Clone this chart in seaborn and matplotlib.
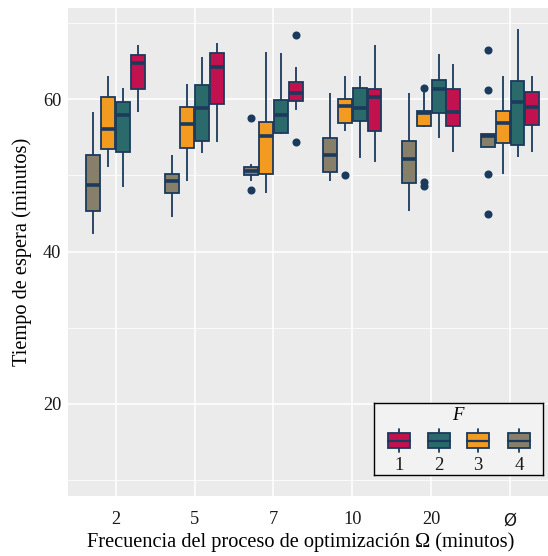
import numpy as np
import pandas as pd
import matplotlib
matplotlib.use("Agg")
import matplotlib.pyplot as plt
import seaborn as sns
from matplotlib.patches import Rectangle

# ---------------- data ----------------
categories = ["2", "5", "7", "10", "20", "Ø"]
f_levels = ["4", "3", "2", "1"]          # drawing order within each group
legend_levels = ["1", "2", "3", "4"]

# five-number summaries: [whisker_low, q1, median, q3, whisker_high]
stats_F4 = [[42.3, 45.3, 48.75, 52.7, 58.35],
            [44.6, 47.65, 49.3, 50.2, 52.75],
            [49.3, 50.05, 50.55, 51.05, 51.55],
            [49.3, 50.45, 52.65, 54.95, 60.8],
            [45.4, 49.0, 52.15, 54.55, 60.85],
            [53.8, 53.8, 55.15, 55.4, 55.4]]
stats_F3 = [[51.1, 53.5, 56.1, 60.35, 63.05],
            [49.3, 53.65, 56.7, 58.95, 62.05],
            [47.75, 50.2, 55.15, 57.0, 66.2],
            [55.8, 56.85, 59.1, 60.1, 63.05],
            [56.4, 56.55, 58.2, 58.5, 61.1],
            [50.25, 54.3, 56.9, 58.5, 63.05]]
stats_F2 = [[48.45, 53.1, 57.95, 59.6, 61.45],
            [52.9, 54.5, 58.8, 61.85, 65.55],
            [55.4, 55.6, 57.9, 59.95, 66.1],
            [52.35, 57.2, 58.8, 61.5, 63.1],
            [54.9, 58.15, 61.35, 62.5, 65.95],
            [52.45, 54.0, 59.6, 62.45, 69.3]]
stats_F1 = [[58.3, 61.35, 64.8, 65.8, 67.1],
            [54.4, 59.45, 64.2, 66.1, 67.4],
            [58.6, 59.8, 60.8, 62.25, 64.2],
            [51.8, 55.9, 60.3, 61.35, 67.1],
            [53.05, 56.5, 58.3, 61.4, 64.6],
            [53.1, 56.65, 59.0, 61.0, 63.05]]

# outliers per group (low, high)
out_F4 = [([], []), ([], []), ([48.15], [57.5]), ([], []), ([], []),
          ([45.0, 50.25], [61.2, 66.5])]
out_F3 = [([], []), ([], []), ([], []), ([50.1], []), ([48.6, 49.15], [61.55]),
          ([], [])]
out_F2 = [([], []), ([], []), ([], []), ([], []), ([], []), ([], [])]
out_F1 = [([], []), ([], []), ([54.45], [68.4]), ([], []), ([], []), ([], [])]

stats = {"4": stats_F4, "3": stats_F3, "2": stats_F2, "1": stats_F1}
outs = {"4": out_F4, "3": out_F3, "2": out_F2, "1": out_F1}

colors = {"1": "#C2114F", "2": "#2A6A6B", "3": "#F39B21", "4": "#877F69"}
navy = "#1B3A5C"


def sample_from_summary(s, lo_out, hi_out):
    """13 points whose quartiles / whiskers reproduce the summary."""
    wlo, q1, med, q3, whi = s
    low = sorted(lo_out) + [wlo]
    low = [wlo] * (3 - len(low)) + low
    high = [whi] + sorted(hi_out)
    high = high + [whi] * (3 - len(high))
    return low + [q1, q1, med, med, med, med, q3, q3] + high


rows = []
for f in f_levels:
    for i, c in enumerate(categories):
        lo, hi = outs[f][i]
        for v in sample_from_summary(stats[f][i], lo, hi):
            rows.append({"omega": c, "F": f, "value": v})
df = pd.DataFrame(rows)

# ---------------- figure ----------------
sns.set_theme(style="darkgrid")
plt.rcParams["font.family"] = ["Liberation Serif", "DejaVu Sans"]

W, H = 548, 556
fig = plt.figure(figsize=(W / 100, H / 100), dpi=100)
fig.patch.set_facecolor("white")

x_lo, x_hi = -0.6, 5.6
px_per_unit = 78.9
ax_left = 68.3 / W
ax_bottom = (H - 496) / H
ax_h = (496 - 8) / H
ax_w = (x_hi - x_lo) * px_per_unit / W
ax = fig.add_axes([ax_left, ax_bottom, ax_w, ax_h])
ax.set_facecolor("#EBEBEB")

sns.boxplot(data=df, x="omega", y="value", hue="F", order=categories,
            hue_order=f_levels, palette=colors, saturation=1,
            width=0.75, gap=0.06, linewidth=1.3, linecolor=navy,
            whis=1.5, fliersize=4.8, showcaps=False,
            flierprops=dict(marker="o", markerfacecolor=navy,
                            markeredgecolor=navy),
            medianprops=dict(linewidth=2.6, color=navy),
            legend=False, ax=ax, zorder=3)

ax.set_xlim(x_lo, x_hi)
ax.set_ylim(7.9, 72.0)
ax.set_yticks([20, 40, 60])
ax.set_yticks([10, 30, 50, 70], minor=True)
ax.grid(False)
ax.grid(True, which="major", color="white", linewidth=1.1, zorder=0)
ax.grid(True, which="minor", axis="y", color="white", linewidth=0.55, zorder=0)
ax.set_axisbelow(True)
for sp in ax.spines.values():
    sp.set_visible(False)
ax.tick_params(axis="both", which="both", length=0, labelsize=13.2,
               labelcolor="#1a1a1a")
ax.tick_params(axis="x", pad=11)
ax.tick_params(axis="y", pad=5)
for lab in ax.get_xticklabels():
    if lab.get_text() == "Ø":
        lab.set_fontfamily("DejaVu Sans")
        lab.set_fontsize(12)
ax.set_xlabel("Frecuencia del proceso de optimización Ω (minutos)",
              fontsize=14.7, color="black")
ax.xaxis.set_label_coords((301 - 68.3) / (ax_w * W), -0.074)
ax.set_ylabel("Tiempo de espera (minutos)", fontsize=14.7, color="black",
              labelpad=8)

# ---------------- legend (manual, labels under keys) ----------------
lx0, ly0, lx1, ly1 = 374, 403, 543, 475
lax = fig.add_axes([lx0 / W, (H - ly1) / H, (lx1 - lx0) / W, (ly1 - ly0) / H])
lax.set_xlim(0, lx1 - lx0)
lax.set_ylim(ly1 - ly0, 0)
lax.set_facecolor("#F2F2F2")
lax.set_xticks([])
lax.set_yticks([])
lax.grid(False)
for sp in lax.spines.values():
    sp.set_visible(True)
    sp.set_color("black")
    sp.set_linewidth(1.0)
lax.text(84, 13, "F", ha="center", va="center", fontsize=13.5,
         style="italic", color="black")
key_x = [25, 65.3, 103.7, 145]
for kx, f in zip(key_x, legend_levels):
    lax.plot([kx, kx], [26, 49], color=navy, lw=1.3, zorder=1)
    lax.add_patch(Rectangle((kx - 11, 30), 22, 15, facecolor=colors[f],
                            edgecolor=navy, lw=1.3, zorder=2))
    lax.plot([kx - 11, kx + 11], [37.5, 37.5], color=navy, lw=1.6, zorder=3)
    lax.text(kx, 62.5, f, ha="center", va="center", fontsize=13.5,
             color="#1a1a1a")

fig.savefig("out.png", dpi=100)
